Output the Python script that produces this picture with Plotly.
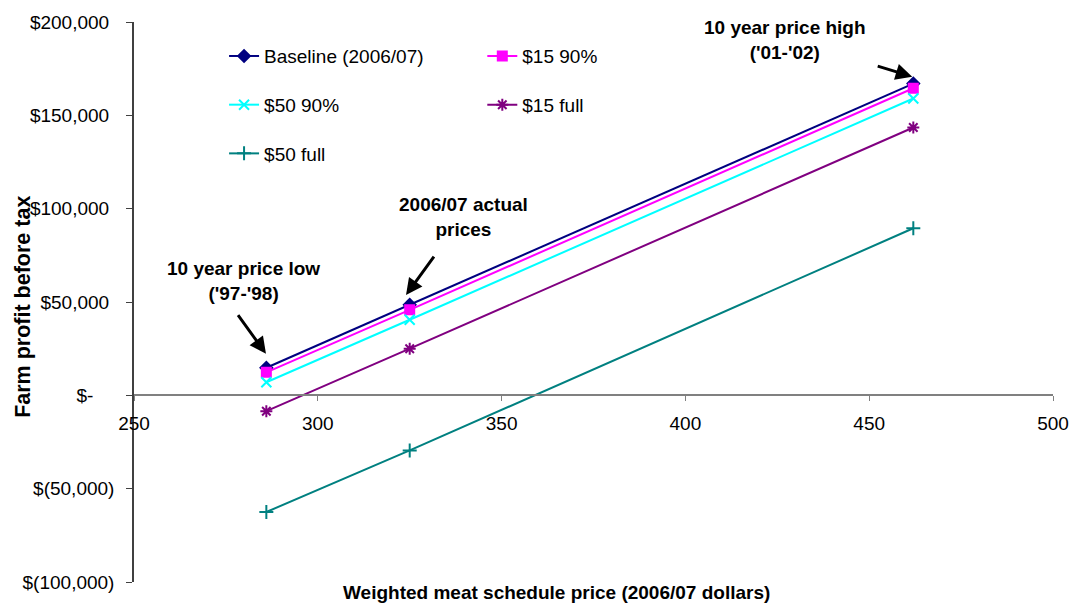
import plotly.graph_objects as go

# Weighted meat schedule price (2006/07 dollars)
prices = [286, 325, 462]

# Farm profit before tax under each scenario
baseline = [14800, 48500, 167000]
s15_90 = [12300, 45800, 164500]
s50_90 = [7000, 40500, 159000]
s15_full = [-8500, 25000, 143500]
s50_full = [-62500, -29500, 89500]

series_names = ["Baseline (2006/07)", "$15 90%", "$50 90%", "$15 full", "$50 full"]

y_tickvals = [200000, 150000, 100000, 50000, 0, -50000, -100000]
y_ticktext = ["$200,000\u00a0", "$150,000\u00a0", "$100,000\u00a0", "$50,000\u00a0",
              "$-\u00a0\u00a0\u00a0\u00a0", "$(50,000)", "$(100,000)"]
x_tickvals = [250, 300, 350, 400, 450, 500]

FONT = "Liberation Sans, Arial, sans-serif"

styles = [
    dict(color="#000080", symbol="diamond", size=9, legend="legend"),
    dict(color="#FF00FF", symbol="square", size=9, legend="legend2"),
    dict(color="#00FFFF", symbol="x-thin-open", size=10, legend="legend"),
    dict(color="#800080", symbol="asterisk-open", size=10, legend="legend2"),
    dict(color="#008080", symbol="cross-thin-open", size=10, legend="legend"),
]
values = [baseline, s15_90, s50_90, s15_full, s50_full]

fig = go.Figure()
for i, (name, vals, st) in enumerate(zip(series_names, values, styles)):
    fig.add_trace(go.Scatter(
        x=prices, y=vals, name=name, mode="lines+markers",
        line=dict(color=st["color"], width=2),
        marker=dict(symbol=st["symbol"], size=st["size"], color=st["color"],
                    line=dict(color=st["color"], width=2)),
        legend=st["legend"], legendgroup=f"g{i}",
    ))

legend_common = dict(
    font=dict(family=FONT, size=19, color="black"),
    bgcolor="rgba(0,0,0,0)", borderwidth=0,
    traceorder="grouped", tracegroupgap=21,
    xanchor="left", yanchor="top", itemwidth=30,
)

fig.update_layout(
    width=1081, height=608,
    margin=dict(l=134, r=21, t=18, b=26),
    plot_bgcolor="white", paper_bgcolor="white",
    font=dict(family=FONT, size=19, color="black"),
    showlegend=True,
    legend=dict(x=0.098, y=0.973, **legend_common),
    legend2=dict(x=0.379, y=0.973, **legend_common),
    xaxis=dict(
        range=[250, 500], tickvals=x_tickvals, showgrid=False, zeroline=False,
        showline=True, linecolor="#808080", linewidth=1.5,
        ticks="outside", ticklen=5, tickcolor="#808080",
        anchor="free", position=1 / 3, ticklabelstandoff=6,
        tickfont=dict(size=19, family=FONT),
    ),
    yaxis=dict(
        range=[-100000, 200000], tickvals=y_tickvals, ticktext=y_ticktext,
        showgrid=False, zeroline=False,
        showline=True, linecolor="#404040", linewidth=1.5,
        ticks="outside", ticklen=6, tickcolor="#404040",
        ticklabelstandoff=8, tickfont=dict(size=19, family=FONT),
    ),
)

bold = dict(family=FONT, size=19, color="black", weight="bold")

# Axis titles
fig.add_annotation(text="<b>Weighted meat schedule price (2006/07 dollars)</b>",
                   xref="paper", yref="paper", x=0.46, y=-0.018,
                   xanchor="center", yanchor="middle", showarrow=False, font=bold)
fig.add_annotation(text="<b>Farm profit before tax</b>", textangle=-90,
                   xref="paper", yref="paper", x=-0.121, y=0.491,
                   xanchor="center", yanchor="middle", showarrow=False,
                   font=dict(bold, size=21.5))

# Callout labels
callouts = [
    ("<b>10 year price high</b><br><b>('01-'02)</b>", 427.2, 190500),
    ("<b>2006/07 actual</b><br><b>prices</b>", 339.6, 95500),
    ("<b>10 year price low</b><br><b>('97-'98)</b>", 279.7, 61100),
]
for text, x, y in callouts:
    fig.add_annotation(text=text, x=x, y=y, xref="x", yref="y", showarrow=False,
                       xanchor="center", yanchor="middle", align="center", font=bold)

# Arrows pointing at the price points
arrows = [(461.7, 170700, -36, -11), (324.0, 53700, 29, -40), (285.9, 22300, -29, -40)]
for x, y, ax, ay in arrows:
    fig.add_annotation(text="", x=x, y=y, xref="x", yref="y", ax=ax, ay=ay,
                       showarrow=True, arrowhead=2, arrowsize=1.1, arrowwidth=3,
                       arrowcolor="black", standoff=0)

fig.write_html("out.html")
